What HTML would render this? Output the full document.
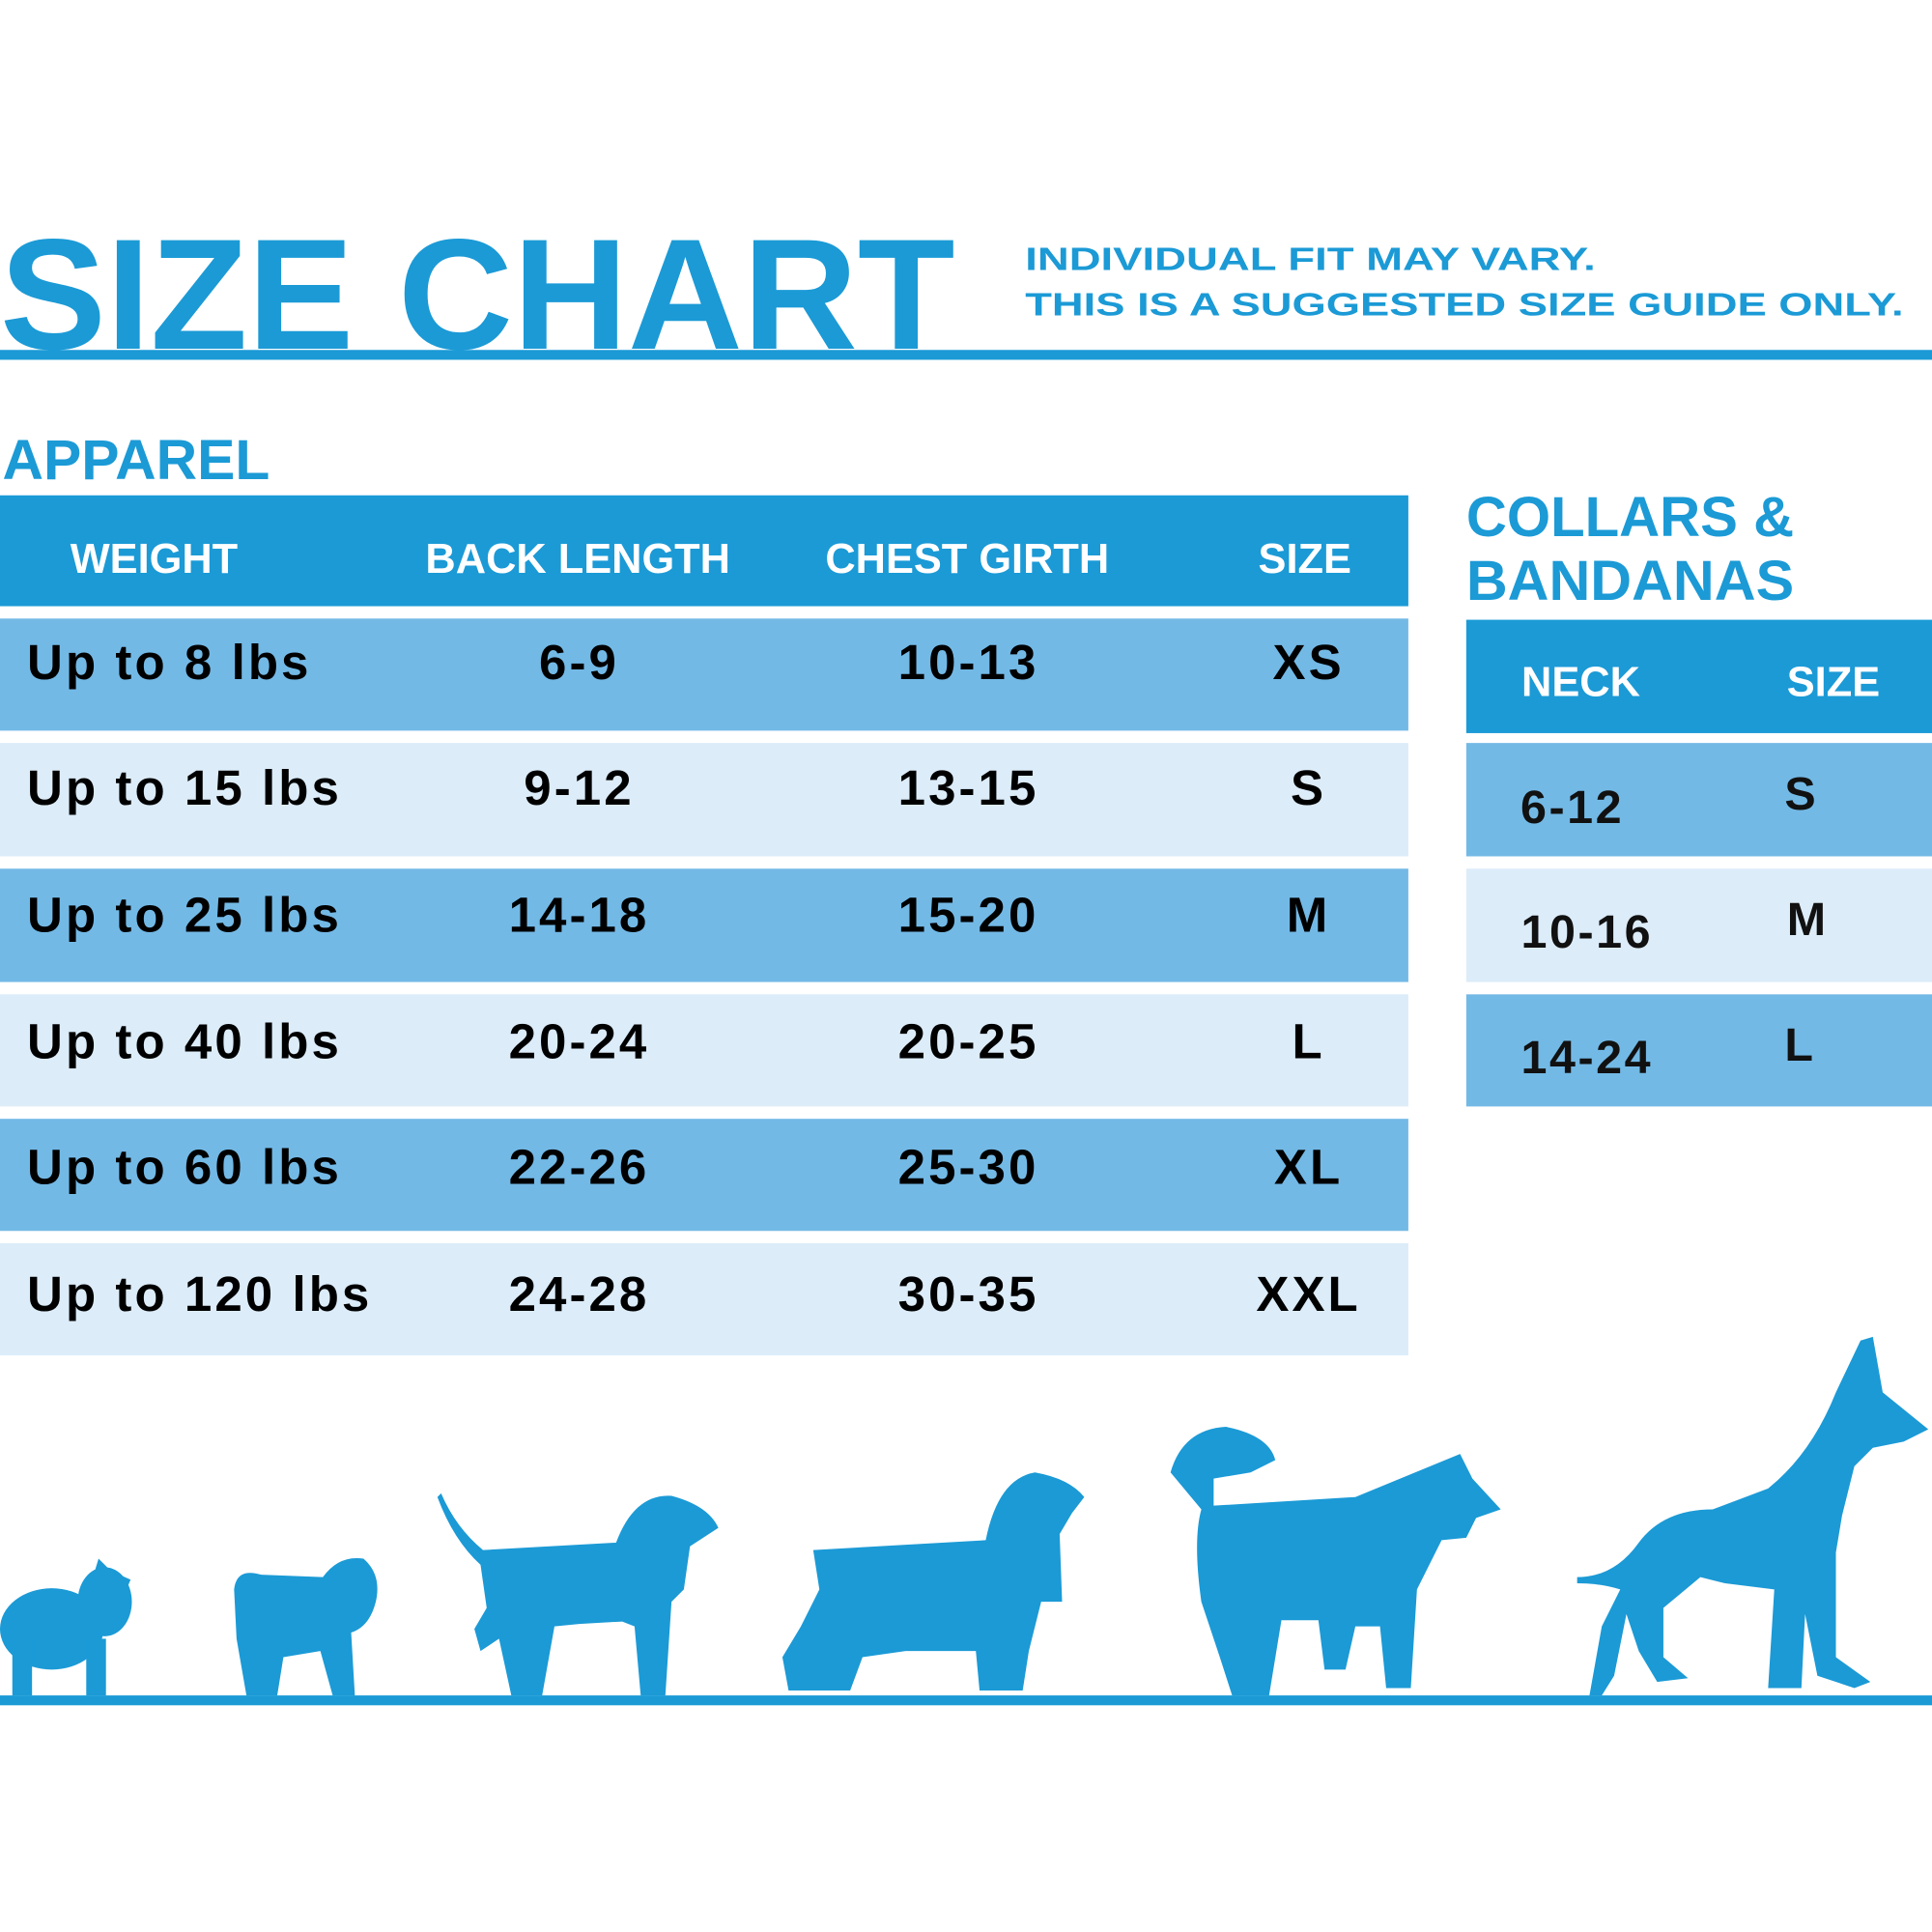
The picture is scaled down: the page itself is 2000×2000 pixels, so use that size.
<!DOCTYPE html>
<html><head><meta charset="utf-8"><style>
html,body{margin:0;padding:0;background:#fff;}
svg{display:block;}
text{font-family:"Liberation Sans",Arial,sans-serif;}
</style></head><body>
<svg width="2000" height="2000" viewBox="0 0 1568 1568" xmlns="http://www.w3.org/2000/svg">
<rect width="1568" height="1568" fill="#fff"/>
<text x="0" y="283" font-size="128" font-weight="bold" fill="#1b9ad6" textLength="775" lengthAdjust="spacingAndGlyphs">SIZE CHART</text>
<text x="832" y="219" font-size="26" font-weight="bold" fill="#1b9ad6" textLength="463" lengthAdjust="spacingAndGlyphs">INDIVIDUAL FIT MAY VARY.</text>
<text x="832" y="256" font-size="26" font-weight="bold" fill="#1b9ad6" textLength="713" lengthAdjust="spacingAndGlyphs">THIS IS A SUGGESTED SIZE GUIDE ONLY.</text>
<rect x="0" y="284" width="1568" height="8" fill="#1b9ad6"/>
<text x="2" y="389" font-size="46" font-weight="bold" fill="#1b9ad6" textLength="217" lengthAdjust="spacingAndGlyphs">APPAREL</text>
<rect x="0" y="402" width="1143" height="90" fill="#1b9ad6"/>
<g font-size="34" font-weight="bold" fill="#fff" text-anchor="middle">
<text x="125" y="465">WEIGHT</text>
<text x="469" y="465">BACK LENGTH</text>
<text x="785" y="465">CHEST GIRTH</text>
<text x="1059" y="465">SIZE</text>
</g>
<g>
<rect x="0" y="502" width="1143" height="91" fill="#73b9e6"/>
<rect x="0" y="603" width="1143" height="92" fill="#dcecf9"/>
<rect x="0" y="705" width="1143" height="92" fill="#73b9e6"/>
<rect x="0" y="807" width="1143" height="91" fill="#dcecf9"/>
<rect x="0" y="908" width="1143" height="91" fill="#73b9e6"/>
<rect x="0" y="1009" width="1143" height="91" fill="#dcecf9"/>
</g>
<g font-size="40" font-weight="bold" fill="#000" letter-spacing="2.4">
<text x="22" y="551">Up to 8 lbs</text>
<text x="22" y="653">Up to 15 lbs</text>
<text x="22" y="756">Up to 25 lbs</text>
<text x="22" y="859">Up to 40 lbs</text>
<text x="22" y="961">Up to 60 lbs</text>
<text x="22" y="1064">Up to 120 lbs</text>
</g>
<g font-size="40" font-weight="bold" fill="#000" text-anchor="middle" letter-spacing="2.4">
<text x="470" y="551">6-9</text><text x="786" y="551">10-13</text><text x="1062" y="551">XS</text>
<text x="470" y="653">9-12</text><text x="786" y="653">13-15</text><text x="1062" y="653">S</text>
<text x="470" y="756">14-18</text><text x="786" y="756">15-20</text><text x="1062" y="756">M</text>
<text x="470" y="859">20-24</text><text x="786" y="859">20-25</text><text x="1062" y="859">L</text>
<text x="470" y="961">22-26</text><text x="786" y="961">25-30</text><text x="1062" y="961">XL</text>
<text x="470" y="1064">24-28</text><text x="786" y="1064">30-35</text><text x="1062" y="1064">XXL</text>
</g>
<text x="1190" y="435" font-size="46" font-weight="bold" fill="#1b9ad6" textLength="266" lengthAdjust="spacingAndGlyphs">COLLARS &amp;</text>
<text x="1190" y="487" font-size="46" font-weight="bold" fill="#1b9ad6" textLength="266" lengthAdjust="spacingAndGlyphs">BANDANAS</text>
<rect x="1190" y="503" width="378" height="92" fill="#1b9ad6"/>
<g font-size="34" font-weight="bold" fill="#fff" text-anchor="middle">
<text x="1283" y="565">NECK</text><text x="1488" y="565">SIZE</text>
</g>
<rect x="1190" y="603" width="378" height="92" fill="#73b9e6"/>
<rect x="1190" y="705" width="378" height="92" fill="#dcecf9"/>
<rect x="1190" y="807" width="378" height="91" fill="#73b9e6"/>
<g font-size="38" fill="#111" text-anchor="middle" font-weight="bold" letter-spacing="2">
<text x="1276" y="668">6-12</text><text x="1462" y="657">S</text>
<text x="1288" y="769">10-16</text><text x="1467" y="759">M</text>
<text x="1288" y="871">14-24</text><text x="1461" y="861">L</text>
</g>
<rect x="0" y="1376" width="1568" height="8" fill="#1b9ad6"/>
<g fill="#1b9ad6">
<ellipse cx="42" cy="1322" rx="42" ry="33"/>
<ellipse cx="85" cy="1300" rx="22" ry="28"/>
<path d="M76 1278 L80 1265 L90 1275 L106 1282 L100 1296 Z"/>
<rect x="10" y="1330" width="16" height="46"/><rect x="70" y="1330" width="16" height="46"/>
<path d="M190 1290 Q192 1272 212 1278 L262 1280 Q275 1262 295 1265 Q310 1278 305 1300 Q300 1320 285 1325 L288 1376 L270 1376 L260 1340 L230 1345 L225 1376 L200 1376 L192 1330 Z"/>
<path d="M358 1212 Q370 1240 392 1258 L500 1252 Q515 1212 545 1214 Q575 1222 583 1240 L560 1255 L555 1290 L545 1300 L540 1376 L520 1376 L515 1320 L505 1316 L470 1318 L450 1320 L440 1376 L415 1376 L405 1330 L390 1340 L385 1322 L395 1305 L390 1270 Q368 1250 355 1215 Z"/>
<path d="M660 1258 L800 1250 Q810 1200 840 1195 Q868 1200 880 1215 L870 1228 L860 1245 L862 1300 L845 1300 L835 1340 L830 1372 L795 1372 L792 1340 L735 1340 L700 1345 L690 1372 L640 1372 L635 1345 L650 1320 L665 1290 Z"/>
<path d="M950 1195 Q960 1160 995 1158 Q1030 1165 1035 1185 L1015 1195 L985 1200 L985 1222 L1100 1215 L1185 1180 L1195 1200 L1218 1225 L1198 1232 L1190 1248 L1170 1250 L1150 1290 L1145 1370 L1125 1370 L1120 1320 L1100 1320 L1092 1355 L1075 1355 L1070 1315 L1040 1315 L1030 1376 L1000 1376 L990 1345 L975 1300 Q968 1250 975 1225 Z"/>
<path d="M1280 1280 Q1310 1280 1330 1252 Q1350 1225 1390 1225 L1435 1208 Q1470 1180 1490 1130 L1510 1088 L1520 1085 L1528 1130 L1565 1160 L1545 1170 L1520 1175 L1505 1190 L1495 1230 L1490 1260 L1490 1345 L1518 1365 L1505 1370 L1475 1360 L1465 1310 L1462 1370 L1435 1370 L1440 1290 L1400 1285 L1380 1280 L1350 1305 L1350 1345 L1370 1362 L1345 1365 L1330 1340 L1320 1310 L1310 1360 L1300 1376 L1290 1376 L1300 1320 L1315 1290 Q1300 1285 1280 1285 Z"/>
</g>
</svg>
</body></html>
